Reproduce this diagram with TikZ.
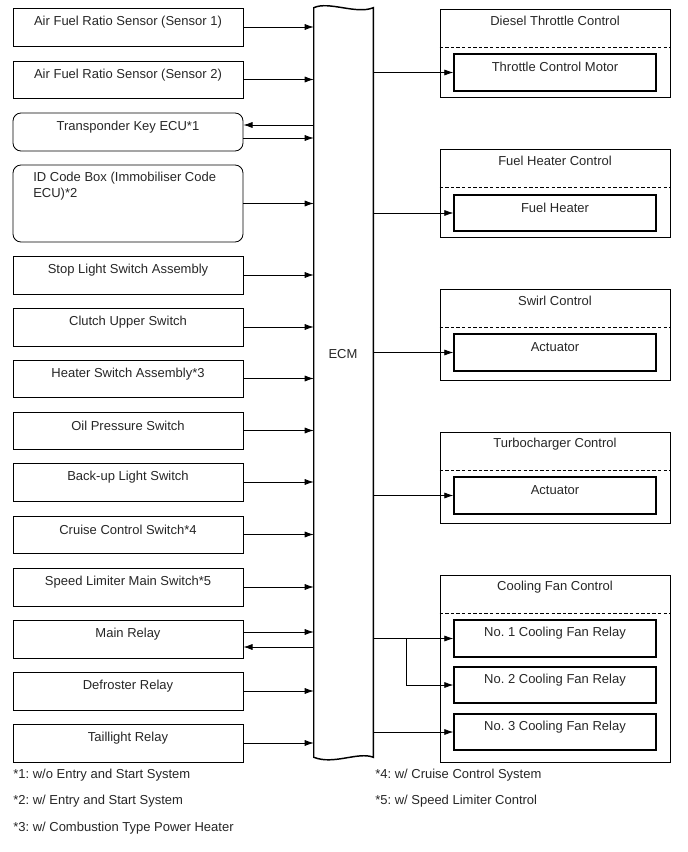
\documentclass[tikz,border=0pt]{standalone}
\usepackage{fontspec}
\setmainfont{Liberation Sans}
\usetikzlibrary{arrows.meta}
\frenchspacing
\begin{document}
\begin{tikzpicture}[x=0.75pt,y=-0.75pt,
  every node/.style={font=\fontsize{9.75}{12}\selectfont, text=black!85},
  ht/.style={minimum height=#1*0.75pt},
  lbox/.style={draw, line width=0.65pt, minimum width=172.5pt, inner sep=0pt,
    label={[anchor=center,yshift=-10.6pt]north:#1}},
  rbox/.style={lbox=#1, rounded corners=6pt},
  gbox/.style={draw, line width=0.65pt, minimum width=172.5pt, inner sep=0pt,
    label={[anchor=center,yshift=-9.4pt]north:#1}},
  ibox/.style={draw, line width=0.9pt, minimum width=151.5pt, inner sep=0pt,
    label={[anchor=center,yshift=-10.2pt]north:#1}},
  ecmbox/.style={minimum width=44.25pt, minimum height=561.75pt, inner sep=0pt},
  ecmline/.style={draw, line width=1.1pt},
  sepline/.style={line width=0.7pt, dash pattern=on 2.6pt off 1.6pt},
  arr/.style={line width=0.6pt, -{Latex[length=6.8pt,width=4.6pt]}},
  note/.style={anchor=west, inner sep=0pt}
]
\path[use as bounding box] (0,0) rectangle (688,852);

% ECM
\node[ecmbox] (ecm) at (343.5,382.5) {};
\draw[ecmline] (ecm.north west) .. controls +(15,-7) and +(-17,7) .. (ecm.north east)
  -- (ecm.south east) .. controls +(-15,-6) and +(20,8) .. (ecm.south west) -- cycle;
\node (ecmlbl) at (343,354) {ECM};

% left boxes
\node[lbox={Air Fuel Ratio Sensor (Sensor 1)}, ht=38] (s1) at (128,27) {};
\node[lbox={Air Fuel Ratio Sensor (Sensor 2)}, ht=37] (s2) at (128,79.5) {};
\node[rbox={Transponder Key ECU*1}, ht=38] (tk) at (128,132) {};
\node[draw, line width=0.65pt, rounded corners=6pt, minimum width=172.5pt, inner sep=0pt, ht=77] (id) at (128,203.5) {};
\node[anchor=north west, align=left, inner sep=0pt] (idtxt) at (33,172) {ID Code Box (Immobiliser Code\\ECU)*2};
\node[lbox={Stop Light Switch Assembly}, ht=38] (stop) at (128,275) {};
\node[lbox={Clutch Upper Switch}, ht=38] (cl) at (128,327) {};
\node[lbox={Heater Switch Assembly*3}, ht=37] (hs) at (128,378.5) {};
\node[lbox={Oil Pressure Switch}, ht=37] (oil) at (128,430.5) {};
\node[lbox={Back-up Light Switch}, ht=38] (bu) at (128,482) {};
\node[lbox={Cruise Control Switch*4}, ht=37] (cc) at (128,534.5) {};
\node[lbox={Speed Limiter Main Switch*5}, ht=38] (sl) at (128,587) {};
\node[lbox={Main Relay}, ht=38] (mr) at (128,639) {};
\node[lbox={Defroster Relay}, ht=38] (df) at (128,691) {};
\node[lbox={Taillight Relay}, ht=38] (tl) at (128,743) {};

% left arrows
\foreach \n in {s1,s2,id,stop,cl,hs,oil,bu,cc,sl,df,tl}
  \draw[arr] (\n.east) -- (\n.east -| ecm.west);
\draw[arr] ([yshift=5.25pt]tk.east -| ecm.west) -- ([yshift=5.25pt]tk.east);
\draw[arr] ([yshift=-4.5pt]tk.east) -- ([yshift=-4.5pt]tk.east -| ecm.west);
\draw[arr] ([yshift=5.25pt]mr.east) -- ([yshift=5.25pt]mr.east -| ecm.west);
\draw[arr] ([yshift=-6pt]mr.east -| ecm.west) -- ([yshift=-6pt]mr.east);

% right groups
\node[gbox={Diesel Throttle Control}, ht=88] (g1) at (555,53) {};
\draw[sepline] (g1.west |- 0,47) -- (g1.east |- 0,47);
\node[ibox={Throttle Control Motor}, ht=37] (tcm) at (555,72.5) {};

\node[gbox={Fuel Heater Control}, ht=88] (g2) at (555,193) {};
\draw[sepline] (g2.west |- 0,187) -- (g2.east |- 0,187);
\node[ibox={Fuel Heater}, ht=36] (fh) at (555,213) {};

\node[gbox={Swirl Control}, ht=91] (g3) at (555,334.5) {};
\draw[sepline] (g3.west |- 0,327) -- (g3.east |- 0,327);
\node[ibox={Actuator}, ht=37] (act1) at (555,352.5) {};

\node[gbox={Turbocharger Control}, ht=91] (g4) at (555,477.5) {};
\draw[sepline] (g4.west |- 0,470) -- (g4.east |- 0,470);
\node[ibox={Actuator}, ht=37] (act2) at (555,495.5) {};

\node[gbox={Cooling Fan Control}, ht=187] (g5) at (555,668.5) {};
\draw[sepline] (g5.west |- 0,613) -- (g5.east |- 0,613);
\node[ibox={No. 1 Cooling Fan Relay}, ht=37] (cf1) at (555,638.5) {};
\node[ibox={No. 2 Cooling Fan Relay}, ht=36] (cf2) at (555,685) {};
\node[ibox={No. 3 Cooling Fan Relay}, ht=36] (cf3) at (555,732) {};

% right arrows
\foreach \n in {tcm,fh,act1,act2,cf1,cf3}
  \draw[arr] (ecm.east |- \n.west) -- (\n.west);
\coordinate (br) at (406,638.5);
\draw[arr] (br) |- (cf2.west);

% notes
\node[note] (n1) at (13,775) {*1: w/o Entry and Start System};
\node[note] (n2) at (13,801) {*2: w/ Entry and Start System};
\node[note] (n3) at (13,828) {*3: w/ Combustion Type Power Heater};
\node[note] (n4) at (375,775) {*4: w/ Cruise Control System};
\node[note] (n5) at (375,801) {*5: w/ Speed Limiter Control};
\end{tikzpicture}
\end{document}
